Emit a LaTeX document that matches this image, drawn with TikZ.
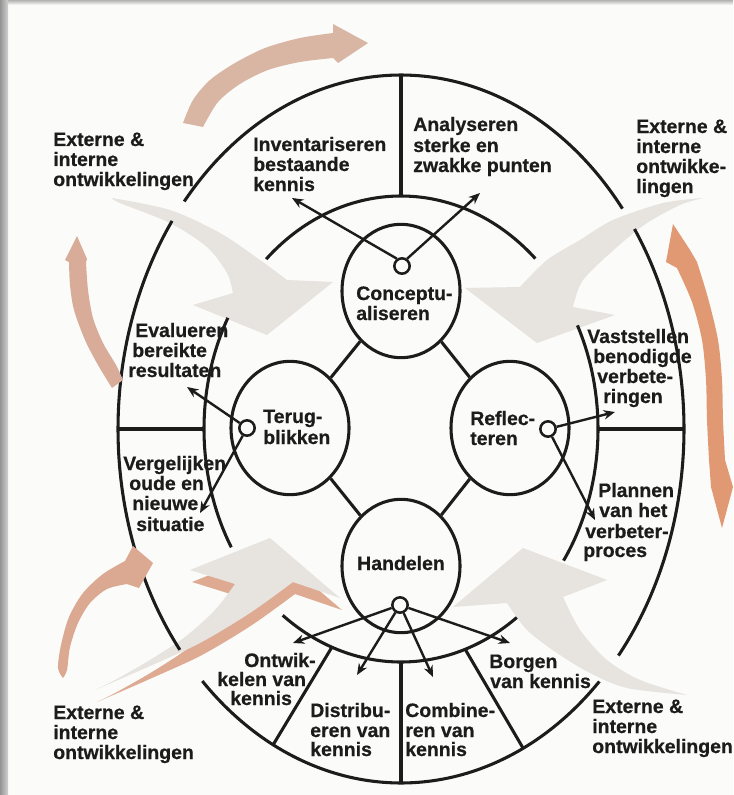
\documentclass[tikz,border=0pt]{standalone}
\usepackage{fontspec}
\setmainfont{Liberation Sans}[BoldFeatures={FakeBold=0.6}]
\usetikzlibrary{arrows.meta,shapes.geometric}
\definecolor{bgc}{RGB}{251,251,249}
\definecolor{ink}{RGB}{28,28,28}
\definecolor{pale}{RGB}{231,227,222}
\definecolor{salTop}{RGB}{217,182,163}
\definecolor{salLeft}{RGB}{216,172,152}
\definecolor{salBot}{RGB}{219,168,145}
\definecolor{salRight}{RGB}{224,153,115}
\definecolor{salShadow}{RGB}{222,170,146}
\tikzset{
  ring/.style={draw=ink, line width=2.3pt},
  conn/.style={draw=ink, line width=1.8pt, -{Stealth[length=8.5pt,width=7pt]}},
  lbl/.style={font=\bfseries\fontsize{14.6}{15.5}\selectfont, text=ink, inner sep=0pt, anchor=base west},
  bigell/.style={ellipse, draw=ink, line width=2.3pt, minimum width=88.5pt, minimum height=100pt, inner sep=0pt},
  dot/.style={circle, draw=ink, line width=1.9pt, fill=bgc, minimum size=11.5pt, inner sep=0pt},
  grayarrow/.style={fill=pale},
}
\begin{document}
\begin{tikzpicture}[x=0.75pt,y=-0.75pt]
\useasboundingbox (0,0) rectangle (733,795);
\fill[bgc] (0,0) rectangle (733,795);
\shade[left color=black!42, right color=black!18] (0,0) rectangle (8,795);
\shade[top color=black!30, bottom color=bgc] (8,0) rectangle (733,5);

% ---------- pale grey arrows (under the lines) ----------
% top left
\fill[grayarrow] plot[smooth] coordinates {(112,198) (170,210) (220,233) (260,260) (287,280)}
  -- (333,282) -- (267,335) -- (193,305)
  -- plot[smooth] coordinates {(233,293) (227,273) (207,247) (170,223) (120,203) (112,198)} -- cycle;
% top right
\fill[grayarrow] plot[smooth] coordinates {(703,198) (663,203) (613,220) (580,240) (547,260) (520,287)}
  -- (465,288) -- (537,343) -- (615,315)
  -- plot[smooth] coordinates {(573,307) (583,280) (617,247) (647,223) (680,205) (703,198)} -- cycle;
% bottom right
\fill[grayarrow] plot[smooth] coordinates {(687,695) (640,680) (607,660) (580,630) (563,597)}
  -- (607,580) -- (523,548) -- (453,607)
  -- plot[smooth] coordinates {(507,603) (527,630) (557,653) (590,673) (627,688) (687,695)} -- cycle;
% bottom left: orange shadow then grey arrow
\fill[salShadow, shift={(2,12)}] plot[smooth] coordinates {(95,690) (115,680) (150,660) (185,637) (215,610) (235,584)}
  -- (190,570) -- (270,538) -- (340,598)
  -- plot[smooth] coordinates {(293,582) (250,613) (200,643) (150,666) (95,690)} -- cycle;
\fill[grayarrow] plot[smooth] coordinates {(95,690) (115,680) (150,660) (185,637) (215,610) (235,584)}
  -- (190,570) -- (270,538) -- (340,598)
  -- plot[smooth] coordinates {(293,582) (250,613) (200,643) (150,666) (95,690)} -- cycle;

% ---------- outer ellipse (with gaps) ----------
\draw[ring] plot[domain=-140:-38.5, samples=90, variable=\t] ({401+283*cos(\t)}, {429+354*sin(\t)});
\draw[ring] plot[domain=-34.4:39.8, samples=70, variable=\t] ({401+283*cos(\t)}, {429+354*sin(\t)});
\draw[ring] plot[domain=45.5:134.6, samples=90, variable=\t] ({401+283*cos(\t)}, {429+354*sin(\t)});
\draw[ring] plot[domain=141.4:216, samples=70, variable=\t] ({401+283*cos(\t)}, {429+354*sin(\t)});
% ---------- middle ellipse (with gaps) ----------
\draw[ring] plot[domain=-133.2:-47, samples=80, variable=\t] ({401+197*cos(\t)}, {429+233*sin(\t)});
\draw[ring] plot[domain=-26.4:34.4, samples=60, variable=\t] ({401+197*cos(\t)}, {429+233*sin(\t)});
\draw[ring] plot[domain=54:126.9, samples=70, variable=\t] ({401+197*cos(\t)}, {429+233*sin(\t)});
\draw[ring] plot[domain=149.5:208.5, samples=60, variable=\t] ({401+197*cos(\t)}, {429+233*sin(\t)});

% ---------- radial separators ----------
\coordinate (Otop) at (401,75);   \coordinate (Mtop) at (401,196);
\coordinate (Oleft) at (118,429); \coordinate (Mleft) at (204,429);
\coordinate (Mright) at (598,429);\coordinate (Oright) at (684,429);
\coordinate (Mb1) at (332,647);   \coordinate (Ob1) at (273,745);
\coordinate (Mb2) at (401,662);   \coordinate (Ob2) at (401,783);
\coordinate (Mb3) at (465,649);   \coordinate (Ob3) at (523,748);
\draw[ring] (Otop) -- (Mtop);
\draw[ring] (Oleft) -- (Mleft);
\draw[ring] (Mright) -- (Oright);
\draw[ring] (Mb1) -- (Ob1);
\draw[ring] (Mb2) -- (Ob2);
\draw[ring] (Mb3) -- (Ob3);

% ---------- four phase ellipses ----------
\node[bigell] (concept) at (401,291) {};
\node[bigell] (terug) at (290,428) {};
\node[bigell] (reflect) at (510,428) {};
\node[bigell] (handel) at (401,566) {};
\draw[ring] (concept) -- (terug);
\draw[ring] (concept) -- (reflect);
\draw[ring] (terug) -- (handel);
\draw[ring] (reflect) -- (handel);

% ---------- small circles and arrows ----------
\node[dot] (cc) at (402,266) {};
\node[dot] (tc) at (247,428) {};
\node[dot] (rc) at (548,429) {};
\node[dot] (hc) at (400,605) {};
\coordinate (ca1) at (292,198); \coordinate (ca2) at (480,193);
\coordinate (ta1) at (187,387); \coordinate (ta2) at (200,513);
\coordinate (ra1) at (615,412); \coordinate (ra2) at (595,520);
\coordinate (ha1) at (293,643); \coordinate (ha2) at (357,675);
\coordinate (ha3) at (433,677); \coordinate (ha4) at (510,643);
\draw[conn] (cc.125) -- (ca1);
\draw[conn] (cc.55) -- (ca2);
\draw[conn] (tc) -- (ta1);
\draw[conn] (tc) -- (ta2);
\draw[conn] (rc) -- (ra1);
\draw[conn] (rc) -- (ra2);
\draw[conn] (hc) -- (ha1);
\draw[conn] (hc) -- (ha2);
\draw[conn] (hc) -- (ha3);
\draw[conn] (hc) -- (ha4);

% ---------- texts ----------
\node[lbl] (etl1) at (53,146) {Externe \&};
\node[lbl] (etl2) at (53,166) {interne};
\node[lbl] (etl3) at (53,186) {ontwikkelingen};

\node[lbl] (inv1) at (253,151) {Inventariseren};
\node[lbl] (inv2) at (253,171) {bestaande};
\node[lbl] (inv3) at (253,191) {kennis};

\node[lbl] (ana1) at (413,131) {Analyseren};
\node[lbl] (ana2) at (413,152) {sterke en};
\node[lbl] (ana3) at (413,172) {zwakke punten};

\node[lbl] (etr1) at (636,133) {Externe \&};
\node[lbl] (etr2) at (636,153) {interne};
\node[lbl] (etr3) at (636,173) {ontwikke-};
\node[lbl] (etr4) at (636,193) {lingen};

\node[lbl] (con1) at (356,300) {Conceptu-};
\node[lbl] (con2) at (356,320) {aliseren};

\node[lbl] (eva1) at (135,337) {Evalueren};
\node[lbl] (eva2) at (132,357) {bereikte};
\node[lbl] (eva3) at (128,377) {resultaten};

\node[lbl] (ter1) at (263,423) {Terug-};
\node[lbl] (ter2) at (263,444) {blikken};

\node[lbl] (ref1) at (470,425) {Reflec-};
\node[lbl] (ref2) at (470,445) {teren};

\node[lbl] (vas1) at (587,343) {Vaststellen};
\node[lbl] (vas2) at (593,363) {benodigde};
\node[lbl] (vas3) at (597,383) {verbete-};
\node[lbl] (vas4) at (603,403) {ringen};

\node[lbl] (pla1) at (598,497) {Plannen};
\node[lbl] (pla2) at (599,517) {van het};
\node[lbl] (pla3) at (585,538) {verbeter-};
\node[lbl] (pla4) at (583,557) {proces};

\node[lbl] (ver1) at (123,470) {Vergelijken};
\node[lbl] (ver2) at (129,490) {oude en};
\node[lbl] (ver3) at (132,510) {nieuwe};
\node[lbl] (ver4) at (136,531) {situatie};

\node[lbl, anchor=base] (han) at (401,570) {Handelen};

\node[lbl] (ont1) at (244,667) {Ontwik-};
\node[lbl] (ont2) at (217,686) {kelen van};
\node[lbl] (ont3) at (230,705) {kennis};

\node[lbl] (dis1) at (310,717) {Distribu-};
\node[lbl] (dis2) at (310,737) {eren van};
\node[lbl] (dis3) at (310,756) {kennis};

\node[lbl] (com1) at (405,717) {Combine-};
\node[lbl] (com2) at (405,737) {ren van};
\node[lbl] (com3) at (405,756) {kennis};

\node[lbl] (bor1) at (489,668) {Borgen};
\node[lbl] (bor2) at (490,688) {van kennis};

\node[lbl] (ebl1) at (53,719) {Externe \&};
\node[lbl] (ebl2) at (53,739) {interne};
\node[lbl] (ebl3) at (53,759) {ontwikkelingen};

\node[lbl] (ebr1) at (592,713) {Externe \&};
\node[lbl] (ebr2) at (592,733) {interne};
\node[lbl] (ebr3) at (592,753) {ontwikkelingen};

% ---------- orange arrows (on top) ----------
% top
\fill[salTop] plot[smooth] coordinates {(183,123) (193,100) (210,80) (235,63) (265,48) (300,38) (333,33)}
  -- (333,24) -- (368,43) -- (338,63)
  -- plot[smooth] coordinates {(333,58) (300,62) (268,70) (240,84) (218,102) (203,127)} -- cycle;
% left
\fill[salLeft] (77,236) -- (87,259)
  -- plot[smooth] coordinates {(86,262) (88,290) (93,318) (103,343) (116,365) (123,380)}
  -- (112,388)
  -- plot[smooth] coordinates {(112,388) (98,365) (85,340) (74,310) (70,285) (69,262)}
  -- (65,260) -- cycle;
% bottom left
\fill[salBot] plot[smooth] coordinates {(63,678) (58,668) (61,645) (69,617) (83,593) (103,574) (125,561)}
  -- (133,546) -- (153,563) -- (139,588)
  -- plot[smooth] coordinates {(127,584) (107,589) (90,603) (78,623) (70,647) (67,670) (63,678)} -- cycle;
% right
\fill[salRight] (673,224) -- (690,250)
  -- plot[smooth] coordinates {(697,262) (708,298) (718,340) (722,380) (723,420) (725,460)}
  -- (733,487) -- (722,528) -- (711,487)
  -- plot[smooth] coordinates {(709,460) (707,420) (706,380) (702,340) (692,302) (677,268)}
  -- (666,262) -- cycle;
\end{tikzpicture}
\end{document}
